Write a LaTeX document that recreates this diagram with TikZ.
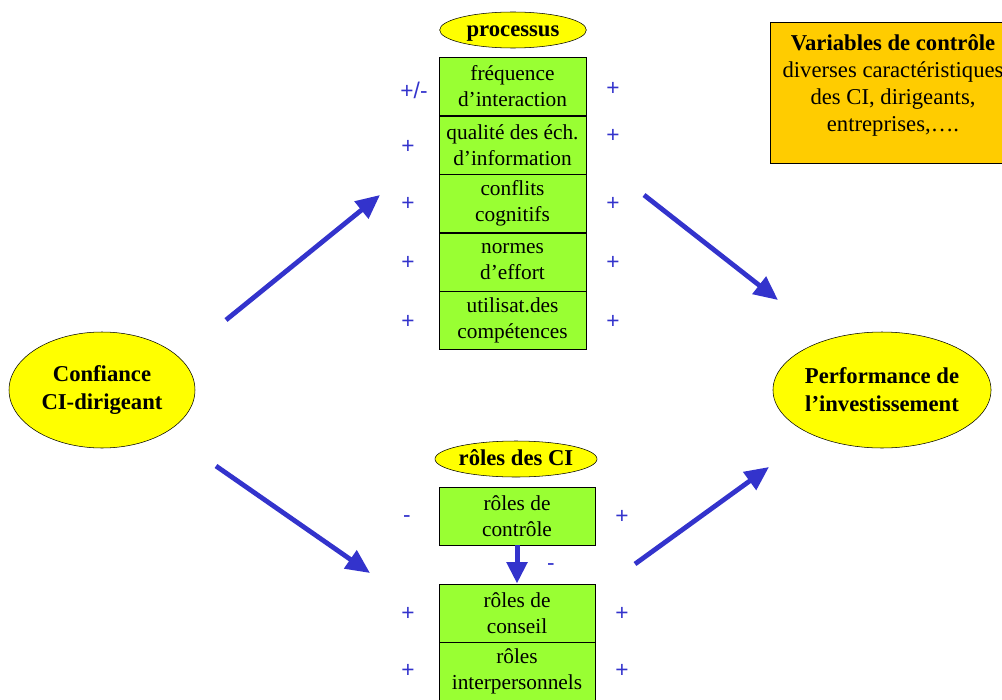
\documentclass[tikz,border=0pt]{standalone}
\usepackage{fontspec}
\setmainfont{Liberation Serif}
\newfontfamily\signfont{Liberation Sans}
\usetikzlibrary{arrows.meta,shapes.geometric}
\pgfdeclarelayer{edgelayer}
\pgfdeclarelayer{nodelayer}
\pgfsetlayers{edgelayer,nodelayer,main}
\definecolor{boxgreen}{HTML}{99FF33}
\definecolor{ovalyellow}{HTML}{FFFF00}
\definecolor{varorange}{HTML}{FFCC00}
\definecolor{arrowblue}{HTML}{3333CC}
\tikzset{font=\fontsize{16}{19.5}\selectfont}
\tikzstyle{none}=[inner sep=0pt]
\tikzstyle{oval}=[ellipse,draw=black,fill=ovalyellow,inner sep=0pt,font=\fontsize{17}{21}\selectfont\bfseries,align=center]
\tikzstyle{tag}=[ellipse,draw=black,fill=ovalyellow,inner sep=0pt,text height=13pt,text depth=3pt,font=\fontsize{17}{21}\selectfont\bfseries]
\tikzstyle{procbox}=[rectangle,draw=black,fill=boxgreen,minimum width=110pt,minimum height=43.8pt,inner sep=0pt,align=center]
\tikzstyle{rolebox}=[rectangle,draw=black,fill=boxgreen,minimum width=117pt,minimum height=43.8pt,inner sep=0pt,align=center]
\tikzstyle{sign}=[inner sep=0pt,text=arrowblue,font=\fontsize{17}{19}\signfont]
\tikzstyle{bigarrow}=[draw=arrowblue,line width=3.6pt,-{Triangle[length=18pt,width=16pt]}]

\begin{document}
\begin{tikzpicture}[x=0.75pt,y=-0.75pt]
	\useasboundingbox (0,0) rectangle (1002,699);
	\begin{pgfonlayer}{nodelayer}
		% ellipses
		\node [style=tag,minimum width=110pt,minimum height=27pt] (proc) at (513,30) {processus};
		\node [style=tag,minimum width=115.5pt,minimum height=27pt] (roles) at (516,459) {rôles des CI};
		\node [style=oval,minimum width=139.5pt,minimum height=87pt] (conf) at (102,390) {Confiance\\CI-dirigeant};
		\node [style=oval,minimum width=139pt,minimum height=87pt] (perf) at (882,390) {Performance de\\l’investissement};
		% processus
		\node [style=procbox] (p1) at (512.5,86.5) {fréquence\\d’interaction};
		\node [style=procbox] (p2) at (512.5,145) {qualité des éch.\\d’information};
		\node [style=procbox] (p3) at (512.5,203.5) {conflits\\cognitifs};
		\node [style=procbox] (p4) at (512.5,262) {normes\\d’effort};
		\node [style=procbox] (p5) at (512.5,320.5) {utilisat.des\\compétences};
		% roles
		\node [style=rolebox] (r1) at (517,516) {rôles de\\contrôle};
		\node [style=rolebox] (r2) at (517,613) {rôles de\\conseil};
		\node [style=rolebox] (r3) at (517,671.5) {rôles\\interpersonnels};
		% variables de controle
		\node [rectangle,draw=black,fill=varorange,minimum width=184.5pt,minimum height=105.75pt] (var) at (893,92.5) {};
		\node [align=center,font=\fontsize{17}{20.3}\selectfont] (vartxt) at (893,85.5) {\textbf{Variables de contrôle}\\diverses caractéristiques\\des CI, dirigeants,\\entreprises,….};
		% signes
		\node [style=sign] (sl1) at (414,90) {+/-};
		\node [style=sign] (sl2) at (408,147) {+};
		\node [style=sign] (sl3) at (408,204) {+};
		\node [style=sign] (sl4) at (408,263) {+};
		\node [style=sign] (sl5) at (408,322) {+};
		\node [style=sign] (sr1) at (613,89) {+};
		\node [style=sign] (sr2) at (613,136) {+};
		\node [style=sign] (sr3) at (613,204) {+};
		\node [style=sign] (sr4) at (613,263) {+};
		\node [style=sign] (sr5) at (613,322) {+};
		\node [style=sign] (rl1) at (407,519) {-};
		\node [style=sign] (rl2) at (408,614) {+};
		\node [style=sign] (rl3) at (408,671) {+};
		\node [style=sign] (rr1) at (622,517) {+};
		\node [style=sign] (rr2) at (622,614) {+};
		\node [style=sign] (rr3) at (622,671) {+};
		\node [style=sign] (rm) at (551,567) {-};
		% arrow ends
		\coordinate (a1s) at (226,320);
		\coordinate (a1e) at (380,195);
		\coordinate (a2s) at (644,195);
		\coordinate (a2e) at (778,300);
		\coordinate (a3s) at (216,466);
		\coordinate (a3e) at (370,573);
		\coordinate (a4s) at (635,564);
		\coordinate (a4e) at (769,467);
	\end{pgfonlayer}
	\begin{pgfonlayer}{edgelayer}
		\draw [style=bigarrow] (a1s) to (a1e);
		\draw [style=bigarrow] (a2s) to (a2e);
		\draw [style=bigarrow] (a3s) to (a3e);
		\draw [style=bigarrow] (a4s) to (a4e);
	\end{pgfonlayer}
	\draw [draw=arrowblue,line width=3.75pt,-{Triangle[length=16pt,width=15pt]}] (r1.south) to (r2.north);
\end{tikzpicture}
\end{document}
